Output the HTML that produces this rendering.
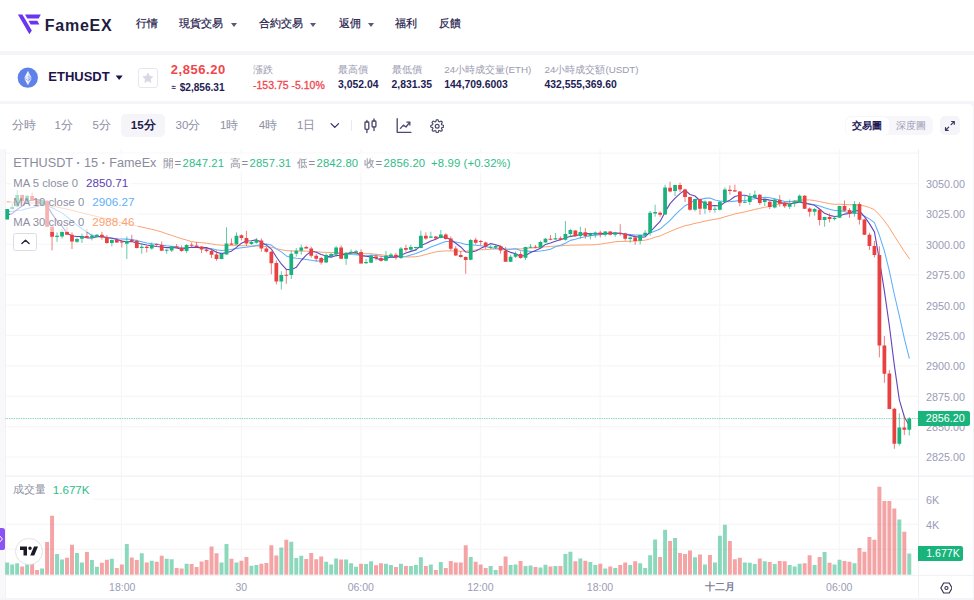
<!DOCTYPE html>
<html lang="zh-Hant">
<head>
<meta charset="utf-8">
<title>ETHUSDT | FameEX</title>
<style>
*{box-sizing:border-box;margin:0;padding:0}
html,body{width:974px;height:600px;overflow:hidden;background:#f4f4f9}
body{position:relative;font-family:"Liberation Sans",sans-serif;color:#1f1a4b;-webkit-font-smoothing:antialiased}
.abs{position:absolute;white-space:nowrap}
.panel{position:absolute;background:#fff}
.nav{position:absolute;top:16.9px;font-size:11.35px;line-height:13px;color:#1f1a4b;white-space:nowrap;-webkit-text-stroke:.2px #1f1a4b}
.car{position:absolute;width:0;height:0;border-left:3.3px solid transparent;border-right:3.3px solid transparent;border-top:4.1px solid #5a5778;margin-top:.5px}
.lbl{position:absolute;top:63.8px;font-size:9.8px;line-height:12px;color:#9a9ab2;white-space:nowrap}
.val{position:absolute;top:78.6px;font-size:10.4px;line-height:12px;font-weight:bold;color:#231c55;white-space:nowrap}
.tf{position:absolute;top:117.8px;font-size:11.5px;line-height:14px;color:#8e8ea6;white-space:nowrap}
.ax{position:absolute;left:926px;font-size:10.8px;line-height:12px;color:#9b9bb7;white-space:nowrap}
.tx{position:absolute;top:581px;font-size:10.5px;line-height:12px;color:#9b9bb7;white-space:nowrap;transform:translateX(-50%)}
.lg{position:absolute;left:9.5px;height:19.7px;padding:0 4px 0 3.8px;font-size:11.3px;line-height:19.7px;color:#8d8fa3;background:rgba(255,255,255,.6);white-space:nowrap}
.lg b{font-weight:normal;margin-left:8px;font-size:11.67px}
.lg em{font-style:normal;color:#30bd88}
.lg .g{display:inline-block;margin-right:5.85px}
.lg .cj{display:inline-block;width:10.4px;margin-right:1px;font-style:normal;overflow:hidden;vertical-align:top;height:19.7px}
.lg .g em{margin-left:1.4px}
</style>
</head>
<body>

<!-- ===== header ===== -->
<div class="panel" style="left:0;top:0;width:974px;height:51px"></div>
<svg class="abs" style="left:0;top:0" width="60" height="50" viewBox="0 0 60 50">
  <g fill="#6b33f2">
    <path d="M17.9 14.6H22.4L31.8 30.5L29.4 34.3Z"/>
    <path d="M25 14.6H40.8L38.7 18.6H27.3Z"/>
    <path d="M28.5 20.8H37.3L39.4 24.5H30.6Z"/>
  </g>
</svg>
<div class="abs" id="brand" style="left:44.8px;top:15.6px;font-size:16px;line-height:19px;font-weight:bold;letter-spacing:.75px;color:#211c3f">FameEX</div>

<div class="nav" style="left:136px">行情</div>
<div class="nav" style="left:179.2px">現貨交易</div><i class="car" style="left:230.5px;top:22.3px"></i>
<div class="nav" style="left:258.8px">合約交易</div><i class="car" style="left:310px;top:22.3px"></i>
<div class="nav" style="left:338.5px">返佣</div><i class="car" style="left:367.5px;top:22.3px"></i>
<div class="nav" style="left:395px">福利</div>
<div class="nav" style="left:439px">反饋</div>

<!-- ===== ticker ===== -->
<div class="panel" style="left:0;top:54.6px;width:974px;height:46.3px"></div>
<svg class="abs" style="left:17px;top:67px" width="22" height="22" viewBox="0 0 22 22">
  <circle cx="10.8" cy="10.7" r="10.15" fill="#5f82ea"/>
  <path d="M11 3.7L7.3 10.9L11 9.2Z" fill="#fff" opacity=".96"/>
  <path d="M11 3.7L14.7 10.9L11 9.2Z" fill="#dbe2fa"/>
  <path d="M11 9.2L7.3 10.9L11 13.2Z" fill="#e6ebfc"/>
  <path d="M11 9.2L14.7 10.9L11 13.2Z" fill="#bfcaf6"/>
  <path d="M7.3 11.5L11 13.7V18.2Z" fill="#fff" opacity=".96"/>
  <path d="M14.7 11.5L11 13.7V18.2Z" fill="#dbe2fa"/>
</svg>
<div class="abs" id="sym" style="left:48.3px;top:69.1px;font-size:13px;line-height:15px;font-weight:bold;color:#21124b">ETHUSDT</div>
<svg class="abs" style="left:114.8px;top:74px" width="9" height="7" viewBox="0 0 9 7"><path d="M1.2 1.4H7.2Q7.8 1.4 7.4 2L4.6 5.4Q4.2 5.9 3.8 5.4L1 2Q.6 1.4 1.2 1.4Z" fill="#21124b"/></svg>
<div class="abs" style="left:138px;top:68.2px;width:19.6px;height:19.5px;border:1px solid #e6e6f1;border-radius:3px;background:#fff"></div>
<svg class="abs" style="left:141.9px;top:72px" width="11.8" height="11.8" viewBox="0 0 24 24"><path d="M12 2.2l3 6.4 7 .9-5.1 4.8 1.3 6.9L12 17.8l-6.2 3.4 1.3-6.9L2 9.5l7-.9z" fill="#d7d7e5" stroke="#d7d7e5" stroke-width="1.5" stroke-linejoin="round"/></svg>

<div class="abs" id="px" style="left:170.8px;top:62px;font-size:13px;line-height:15px;font-weight:bold;letter-spacing:.55px;color:#f0464b">2,856.20</div>
<div class="abs" id="px2" style="left:171.6px;top:82px;font-size:10.1px;line-height:12px;font-weight:bold;color:#231c55"><span style="font-size:7.6px;margin-right:3.9px;position:relative;top:-.6px">≈</span>$2,856.31</div>

<div class="lbl" style="left:253px">漲跌</div>
<div class="val" id="chg" style="left:253px;color:#f0464b;font-weight:normal;font-size:10.5px;-webkit-text-stroke:.3px #f0464b">-153.75 -5.10%</div>
<div class="lbl" style="left:338px">最高價</div>
<div class="val" style="left:338px">3,052.04</div>
<div class="lbl" style="left:391.5px">最低價</div>
<div class="val" style="left:391.5px">2,831.35</div>
<div class="lbl" style="left:444.3px">24小時成交量(ETH)</div>
<div class="val" style="left:444.3px">144,709.6003</div>
<div class="lbl" style="left:544.5px">24小時成交額(USDT)</div>
<div class="val" style="left:544.5px">432,555,369.60</div>

<!-- ===== toolbar + chart panel ===== -->
<div class="panel" style="left:0;top:104px;width:973px;height:494px;border-top-right-radius:5px"></div>
<div class="abs" style="left:0;top:149px;width:5.5px;height:449px;background:#f8f8fb"></div>

<div class="tf" style="left:11.7px">分時</div>
<div class="tf" style="left:54.5px">1分</div>
<div class="tf" style="left:92.5px">5分</div>
<div class="abs" style="left:121.3px;top:113.8px;width:44.2px;height:23.2px;border-radius:5px;background:#f4f4f9"></div>
<div class="tf" style="left:130.8px;color:#1f1a4b;font-weight:bold">15分</div>
<div class="tf" style="left:175.5px">30分</div>
<div class="tf" style="left:220px">1時</div>
<div class="tf" style="left:258.8px">4時</div>
<div class="tf" style="left:297px">1日</div>
<svg class="abs" style="left:329px;top:121px" width="12" height="9" viewBox="0 0 12 9"><path d="M2 2.6L5.8 6.4L9.6 2.6" fill="none" stroke="#2d1e63" stroke-width="1.1" stroke-linecap="round" stroke-linejoin="round"/></svg>
<div class="abs" style="left:351.4px;top:120px;width:1px;height:11px;background:#e9e9f1"></div>
<!-- candle icon -->
<svg class="abs" style="left:363px;top:117px" width="16" height="18" viewBox="0 0 16 18">
  <g fill="none" stroke="#4c4a6b" stroke-width="1.35" stroke-linecap="round" stroke-linejoin="round">
    <path d="M3.9 3.4V5M3.9 12.4V15.6M11 1.8V4M11 10V13.6"/>
    <rect x="2" y="5" width="3.8" height="7.4" rx=".8"/>
    <rect x="9.1" y="4" width="3.8" height="6" rx=".8"/>
  </g>
</svg>
<!-- line chart icon -->
<svg class="abs" style="left:395px;top:117px" width="18" height="18" viewBox="0 0 18 18">
  <g fill="none" stroke="#4c4a6b" stroke-width="1.35" stroke-linecap="round" stroke-linejoin="round">
    <path d="M2.2 1.7V15.3H16"/>
    <path d="M5.4 11.4L8.4 8.1L11 10L14.6 5.4"/>
    <path d="M11.9 5.1H14.8V8"/>
  </g>
</svg>
<!-- gear icon -->
<svg class="abs" style="left:429.9px;top:118.6px" width="14.4" height="14.4" viewBox="0 0 24 24">
  <g fill="none" stroke="#4c4a6b" stroke-width="2" stroke-linecap="round" stroke-linejoin="round">
    <circle cx="12" cy="12" r="3.2"/>
    <path d="M19.4 15a1.65 1.65 0 0 0 .33 1.82l.06.06a2 2 0 1 1-2.83 2.83l-.06-.06a1.65 1.65 0 0 0-1.82-.33 1.65 1.65 0 0 0-1 1.51V21a2 2 0 1 1-4 0v-.09A1.65 1.65 0 0 0 9 19.4a1.65 1.65 0 0 0-1.82.33l-.06.06a2 2 0 1 1-2.83-2.83l.06-.06a1.65 1.65 0 0 0 .33-1.82 1.65 1.65 0 0 0-1.51-1H3a2 2 0 1 1 0-4h.09A1.65 1.65 0 0 0 4.6 9a1.65 1.65 0 0 0-.33-1.82l-.06-.06a2 2 0 1 1 2.83-2.83l.06.06a1.65 1.65 0 0 0 1.82.33H9a1.65 1.65 0 0 0 1-1.51V3a2 2 0 1 1 4 0v.09a1.65 1.65 0 0 0 1 1.51 1.65 1.65 0 0 0 1.82-.33l.06-.06a2 2 0 1 1 2.83 2.83l-.06.06a1.65 1.65 0 0 0-.33 1.82V9a1.65 1.65 0 0 0 1.51 1H21a2 2 0 1 1 0 4h-.09a1.65 1.65 0 0 0-1.51 1z"/>
  </g>
</svg>

<!-- right toggles -->
<div class="abs" style="left:845.4px;top:116.3px;width:87.4px;height:19.2px;border-radius:6px;background:#f6f6fb"></div>
<div class="abs" style="left:846.2px;top:117px;width:42.8px;height:17.8px;border-radius:5.5px;background:#fff"></div>
<div class="abs" style="left:852.4px;top:119.8px;font-size:10px;line-height:12px;font-weight:bold;color:#241c5a">交易圖</div>
<div class="abs" style="left:895.8px;top:119.8px;font-size:10px;line-height:12px;color:#9a9ab2">深度圖</div>
<div class="abs" style="left:940px;top:116.3px;width:19.6px;height:19.2px;border-radius:5px;background:#f4f4f9"></div>
<svg class="abs" style="left:944px;top:120px" width="12" height="12" viewBox="0 0 12 12">
  <g fill="none" stroke="#3a335f" stroke-width="1.2" stroke-linecap="round" stroke-linejoin="round">
    <path d="M7.1 4.7L10.2 1.6M7.6 1.5H10.3V4.2"/>
    <path d="M4.7 7.1L1.6 10.2M1.5 7.6V10.3H4.2"/>
  </g>
</svg>

<!-- ===== chart ===== -->
<svg class="abs" style="left:0;top:0" width="974" height="600" viewBox="0 0 974 600">
<rect x="5" y="149" width="1" height="449" fill="#f2f2f6"/>
<rect x="120.75" y="149" width="1.3" height="426" fill="#f7f7fa"/>
<rect x="240.75" y="149" width="1.3" height="426" fill="#f7f7fa"/>
<rect x="360.25" y="149" width="1.3" height="426" fill="#f7f7fa"/>
<rect x="479.85" y="149" width="1.3" height="426" fill="#f7f7fa"/>
<rect x="599.45" y="149" width="1.3" height="426" fill="#f7f7fa"/>
<rect x="719.05" y="149" width="1.3" height="426" fill="#f7f7fa"/>
<rect x="838.75" y="149" width="1.3" height="426" fill="#f7f7fa"/>
<rect x="5.5" y="152.55" width="913" height="1.3" fill="#f7f7fa"/>
<rect x="5.5" y="182.93" width="913" height="1.3" fill="#f7f7fa"/>
<rect x="5.5" y="213.31" width="913" height="1.3" fill="#f7f7fa"/>
<rect x="5.5" y="243.69" width="913" height="1.3" fill="#f7f7fa"/>
<rect x="5.5" y="274.07" width="913" height="1.3" fill="#f7f7fa"/>
<rect x="5.5" y="304.45" width="913" height="1.3" fill="#f7f7fa"/>
<rect x="5.5" y="334.83" width="913" height="1.3" fill="#f7f7fa"/>
<rect x="5.5" y="365.21" width="913" height="1.3" fill="#f7f7fa"/>
<rect x="5.5" y="395.59" width="913" height="1.3" fill="#f7f7fa"/>
<rect x="5.5" y="425.97" width="913" height="1.3" fill="#f7f7fa"/>
<rect x="5.5" y="456.35" width="913" height="1.3" fill="#f7f7fa"/>
<rect x="5.5" y="498.75" width="913" height="1.3" fill="#f7f7fa"/>
<rect x="5.5" y="523.65" width="913" height="1.3" fill="#f7f7fa"/>
<rect x="5.5" y="548.65" width="913" height="1.3" fill="#f7f7fa"/>
<path d="M5.22 562.5h3.95v12.3h-3.95zM10.21 564.5h3.95v10.3h-3.95zM15.19 563.2h3.95v11.6h-3.95zM25.16 564.1h3.95v10.7h-3.95zM40.11 568.5h3.95v6.3h-3.95zM55.07 554.1h3.95v20.7h-3.95zM60.05 559.4h3.95v15.4h-3.95zM75 553h3.95v21.8h-3.95zM79.99 562.5h3.95v12.3h-3.95zM89.95 560.1h3.95v14.7h-3.95zM94.94 566.8h3.95v8h-3.95zM109.89 558.8h3.95v16h-3.95zM124.84 544.1h3.95v30.7h-3.95zM139.79 553.2h3.95v21.6h-3.95zM149.76 560.8h3.95v14h-3.95zM164.71 558.8h3.95v16h-3.95zM169.7 559.2h3.95v15.6h-3.95zM184.65 563.8h3.95v11h-3.95zM219.54 562.4h3.95v12.4h-3.95zM224.52 544.1h3.95v30.7h-3.95zM234.49 562.4h3.95v12.4h-3.95zM249.44 565.7h3.95v9.1h-3.95zM254.42 565.1h3.95v9.7h-3.95zM279.34 547.4h3.95v27.4h-3.95zM289.31 541.8h3.95v33h-3.95zM294.3 558.1h3.95v16.7h-3.95zM299.28 555.8h3.95v19h-3.95zM324.2 561.8h3.95v13h-3.95zM329.18 564.5h3.95v10.3h-3.95zM334.17 558.4h3.95v16.4h-3.95zM344.14 559.4h3.95v15.4h-3.95zM349.12 563.2h3.95v11.6h-3.95zM354.1 566.8h3.95v8h-3.95zM364.07 564.1h3.95v10.7h-3.95zM369.06 561.2h3.95v13.6h-3.95zM384.01 563.7h3.95v11.1h-3.95zM388.99 565.1h3.95v9.7h-3.95zM398.96 563.7h3.95v11.1h-3.95zM408.93 566.1h3.95v8.7h-3.95zM413.91 565.1h3.95v9.7h-3.95zM418.9 557.2h3.95v17.6h-3.95zM428.86 564.4h3.95v10.4h-3.95zM438.83 562.1h3.95v12.7h-3.95zM468.74 557h3.95v17.8h-3.95zM488.67 565.9h3.95v8.9h-3.95zM493.66 570.1h3.95v4.7h-3.95zM508.61 565.1h3.95v9.7h-3.95zM513.59 564.4h3.95v10.4h-3.95zM523.56 565.9h3.95v8.9h-3.95zM528.55 565.5h3.95v9.3h-3.95zM538.51 567.5h3.95v7.3h-3.95zM543.5 564.8h3.95v10h-3.95zM553.47 565.9h3.95v8.9h-3.95zM563.43 554.1h3.95v20.7h-3.95zM568.42 551.7h3.95v23.1h-3.95zM578.38 558.4h3.95v16.4h-3.95zM588.35 562.1h3.95v12.7h-3.95zM593.34 565.1h3.95v9.7h-3.95zM603.31 568.5h3.95v6.3h-3.95zM613.27 568.1h3.95v6.7h-3.95zM628.23 565.1h3.95v9.7h-3.95zM638.19 563.2h3.95v11.6h-3.95zM643.18 568.1h3.95v6.7h-3.95zM648.16 555.2h3.95v19.6h-3.95zM653.14 539.4h3.95v35.4h-3.95zM663.11 529.8h3.95v45h-3.95zM673.08 538.1h3.95v36.7h-3.95zM693.02 557.2h3.95v17.6h-3.95zM702.99 564.5h3.95v10.3h-3.95zM712.95 562.4h3.95v12.4h-3.95zM717.94 535.8h3.95v39h-3.95zM722.92 524.8h3.95v50h-3.95zM742.86 562.5h3.95v12.3h-3.95zM747.84 562.8h3.95v12h-3.95zM752.83 564.1h3.95v10.7h-3.95zM762.79 561.2h3.95v13.6h-3.95zM772.76 564.1h3.95v10.7h-3.95zM787.71 565.1h3.95v9.7h-3.95zM792.7 566.4h3.95v8.4h-3.95zM797.68 563.7h3.95v11.1h-3.95zM812.63 565.1h3.95v9.7h-3.95zM822.6 552.1h3.95v22.7h-3.95zM832.57 564.5h3.95v10.3h-3.95zM837.55 559.8h3.95v15h-3.95zM852.5 563.2h3.95v11.6h-3.95zM897.36 519.4h3.95v55.4h-3.95zM907.33 553.4h3.95v21.4h-3.95z" fill="#1ab17c" opacity=".5"/>
<path d="M20.18 566.4h3.95v8.4h-3.95zM30.15 564.1h3.95v10.7h-3.95zM35.13 569.9h3.95v4.9h-3.95zM45.1 542.1h3.95v32.7h-3.95zM50.08 515.8h3.95v59h-3.95zM65.03 557.7h3.95v17.1h-3.95zM70.02 544.8h3.95v30h-3.95zM84.97 552.1h3.95v22.7h-3.95zM99.92 562.8h3.95v12h-3.95zM104.91 559.7h3.95v15.1h-3.95zM114.87 568.1h3.95v6.7h-3.95zM119.86 564.4h3.95v10.4h-3.95zM129.82 557.4h3.95v17.4h-3.95zM134.81 560.1h3.95v14.7h-3.95zM144.78 562.4h3.95v12.4h-3.95zM154.75 561.8h3.95v13h-3.95zM159.73 555.8h3.95v19h-3.95zM174.68 568.1h3.95v6.7h-3.95zM179.66 568.4h3.95v6.4h-3.95zM189.63 564.1h3.95v10.7h-3.95zM194.62 567.1h3.95v7.7h-3.95zM199.6 561.4h3.95v13.4h-3.95zM204.59 560.1h3.95v14.7h-3.95zM209.57 546.4h3.95v28.4h-3.95zM214.55 553.2h3.95v21.6h-3.95zM229.5 558.8h3.95v16h-3.95zM239.47 560.8h3.95v14h-3.95zM244.46 557h3.95v17.8h-3.95zM259.41 563.8h3.95v11h-3.95zM264.39 563.1h3.95v11.7h-3.95zM269.38 545.2h3.95v29.6h-3.95zM274.36 555.4h3.95v19.4h-3.95zM284.33 539.8h3.95v35h-3.95zM304.26 559h3.95v15.8h-3.95zM309.25 553h3.95v21.8h-3.95zM314.23 559.2h3.95v15.6h-3.95zM319.22 556.5h3.95v18.3h-3.95zM339.15 559.4h3.95v15.4h-3.95zM359.09 563.7h3.95v11.1h-3.95zM374.04 565.2h3.95v9.6h-3.95zM379.02 563.2h3.95v11.6h-3.95zM393.98 567.1h3.95v7.7h-3.95zM403.94 566.1h3.95v8.7h-3.95zM423.88 566.1h3.95v8.7h-3.95zM433.85 569.9h3.95v4.9h-3.95zM443.82 568.1h3.95v6.7h-3.95zM448.8 561h3.95v13.8h-3.95zM453.78 562.4h3.95v12.4h-3.95zM458.77 562.4h3.95v12.4h-3.95zM463.75 545.2h3.95v29.6h-3.95zM473.72 561.7h3.95v13.1h-3.95zM478.7 564.4h3.95v10.4h-3.95zM483.69 567.9h3.95v6.9h-3.95zM498.64 566.1h3.95v8.7h-3.95zM503.62 556.5h3.95v18.3h-3.95zM518.58 561h3.95v13.8h-3.95zM533.53 567.1h3.95v7.7h-3.95zM548.48 566.5h3.95v8.3h-3.95zM558.45 565.9h3.95v8.9h-3.95zM573.4 561.2h3.95v13.6h-3.95zM583.37 560.8h3.95v14h-3.95zM598.32 563.7h3.95v11.1h-3.95zM608.29 566.5h3.95v8.3h-3.95zM618.26 565.1h3.95v9.7h-3.95zM623.24 562.4h3.95v12.4h-3.95zM633.21 561.2h3.95v13.6h-3.95zM658.13 557h3.95v17.8h-3.95zM668.1 541h3.95v33.8h-3.95zM678.07 553h3.95v21.8h-3.95zM683.05 554.1h3.95v20.7h-3.95zM688.03 550.4h3.95v24.4h-3.95zM698 554.5h3.95v20.3h-3.95zM707.97 555h3.95v19.8h-3.95zM727.9 541h3.95v33.8h-3.95zM732.89 559.2h3.95v15.6h-3.95zM737.87 557.8h3.95v17h-3.95zM757.81 558.4h3.95v16.4h-3.95zM767.78 562.1h3.95v12.7h-3.95zM777.75 561h3.95v13.8h-3.95zM782.73 561.2h3.95v13.6h-3.95zM802.67 563.2h3.95v11.6h-3.95zM807.65 555.2h3.95v19.6h-3.95zM817.62 557h3.95v17.8h-3.95zM827.59 562.8h3.95v12h-3.95zM842.54 561h3.95v13.8h-3.95zM847.52 561.8h3.95v13h-3.95zM857.49 548.1h3.95v26.7h-3.95zM862.47 551.7h3.95v23.1h-3.95zM867.46 537h3.95v37.8h-3.95zM872.44 539.7h3.95v35.1h-3.95zM877.43 486.7h3.95v88.1h-3.95zM882.41 501h3.95v73.8h-3.95zM887.39 501h3.95v73.8h-3.95zM892.38 508.4h3.95v66.4h-3.95zM902.35 531.7h3.95v43.1h-3.95z" fill="#e84142" opacity=".48"/>
<polyline points="7.2,201.75 12.18,202.12 17.17,202.49 22.15,202.86 27.14,202.95 32.12,202.88 37.1,202.81 42.09,203.75 47.07,204.8 52.06,206.21 57.04,207.15 62.02,208.1 67.01,209.05 71.99,210.34 76.98,211.62 81.96,212.88 86.94,214.1 91.93,215.32 96.91,216.55 101.9,217.78 106.88,219.02 111.86,220.3 116.85,221.59 121.83,222.77 126.82,223.76 131.8,224.81 136.78,225.96 141.77,227.1 146.75,228.22 151.74,229.33 156.72,230.53 161.7,231.99 166.69,233.81 171.67,235.33 176.66,237.07 181.64,238.74 186.62,240.09 191.61,241.6 196.59,242.27 201.58,242.69 206.56,243.2 211.54,243.97 216.53,244.78 221.51,245.2 226.5,245.34 231.48,245.62 236.46,245.55 241.45,245.63 246.43,245.91 251.42,246.06 256.4,245.96 261.38,246.24 266.37,246.55 271.35,247.24 276.34,248.59 281.32,249.71 286.3,250.63 291.29,250.86 296.27,250.96 301.26,251.05 306.24,251.16 311.22,251.33 316.21,251.63 321.19,252.15 326.18,252.39 331.16,252.49 336.14,252.57 341.13,253 346.11,253.2 351.1,253.28 356.08,253.29 361.06,253.58 366.05,253.68 371.03,253.75 376.02,254.23 381,254.76 385.98,255.43 390.97,255.98 395.95,256.44 400.94,256.65 405.92,256.98 410.9,256.93 415.89,256.77 420.87,255.85 425.86,254.42 430.84,253.14 435.82,251.9 440.81,251.26 445.79,250.87 450.78,250.91 455.76,251.15 460.74,251.19 465.73,251.24 470.71,250.49 475.7,250.08 480.68,249.68 485.66,249.65 490.65,249.25 495.63,249.02 500.62,248.98 505.6,249.33 510.58,249.1 515.57,248.83 520.55,248.89 525.54,248.53 530.52,248.06 535.5,247.79 540.49,247.38 545.47,246.76 550.46,246.47 555.44,246.09 560.42,245.85 565.41,245.41 570.39,245.22 575.38,245.15 580.36,245 585.34,244.92 590.33,244.88 595.31,244.66 600.3,244.18 605.28,243.38 610.26,242.64 615.25,241.72 620.23,241.5 625.22,241.37 630.2,241.22 635.18,241.04 640.17,240.64 645.15,240.2 650.14,238.94 655.12,237.28 660.1,235.88 665.09,233.67 670.07,231.45 675.06,229.38 680.04,227.47 685.02,225.78 690.01,224.71 694.99,223.38 699.98,222.35 704.96,221.12 709.94,220.13 714.93,219.29 719.91,218.35 724.9,216.78 729.88,215.42 734.86,213.93 739.85,212.91 744.83,211.89 749.82,210.61 754.8,209.38 759.78,208.33 764.77,207.25 769.75,206.36 774.74,205.05 779.72,203.92 784.7,202.77 789.69,201.72 794.67,200.68 799.66,200.11 804.64,200 809.62,199.91 814.61,200.63 819.59,201.58 824.58,202.65 829.56,203.63 834.54,204.33 839.53,204.2 844.51,204.59 849.5,204.76 854.48,204.85 859.46,205.17 864.45,206.04 869.43,207.51 874.42,209.7 879.4,214.84 884.38,220.92 889.37,227.8 894.35,235.86 899.34,243.58 904.32,251.41 909.3,258.59" fill="none" stroke="#fba271" stroke-width="1.0" stroke-linejoin="round" stroke-linecap="round"/>
<polyline points="7.2,211.3 12.18,211.6 17.17,210.6 22.15,210.02 27.14,208.6 32.12,207.48 37.1,206.53 42.09,204.96 47.07,205.84 52.06,207.71 57.04,210.38 62.02,212.85 67.01,216.82 71.99,220.84 76.98,225.16 81.96,228.72 86.94,232.04 91.93,235.58 96.91,236.38 101.9,236.46 106.88,237.19 111.86,238.02 116.85,238.79 121.83,238.91 126.82,239.11 131.8,239.6 136.78,240.63 141.77,241.74 146.75,243.06 151.74,243.77 156.72,243.97 161.7,245.05 166.69,245.78 171.67,246.18 176.66,246.88 181.64,247.85 186.62,247.55 191.61,247.44 196.59,247.34 201.58,247.82 206.56,248.42 211.54,248.81 216.53,249.74 221.51,250.48 226.5,250.02 231.48,249.4 236.46,248.47 241.45,247.7 246.43,247.34 251.42,246.6 256.4,245.5 261.38,244.87 266.37,244.14 271.35,245.07 276.34,248.87 281.32,251.89 286.3,255.88 291.29,257.45 296.27,258.19 301.26,258.73 306.24,259.57 311.22,260.3 316.21,261 321.19,260.91 326.18,258.27 331.16,256.17 336.14,253.35 341.13,253.85 346.11,254.07 351.1,254.5 356.08,254.79 361.06,255.57 366.05,255.9 371.03,255.26 376.02,255.56 381,256.23 385.98,257.06 390.97,256.63 395.95,257.06 400.94,256.73 405.92,256.57 410.9,254.92 415.89,253.42 420.87,251.39 425.86,249.43 430.84,247.02 435.82,245.29 440.81,243.31 445.79,241.48 450.78,241.51 455.76,242.09 460.74,243.09 465.73,244.39 470.71,244.82 475.7,245.26 480.68,245.8 485.66,246.6 490.65,247.82 495.63,248.52 500.62,248.71 505.6,249.33 510.58,249.3 515.57,248.67 520.55,250.47 525.54,250.89 530.52,251.36 535.5,251.49 540.49,251.01 545.47,250.28 550.46,249.19 555.44,246.84 560.42,245.15 565.41,243.18 570.39,240.38 575.38,239.31 580.36,237.84 585.34,236.67 590.33,235.81 595.31,235.18 600.3,234.65 605.28,233.97 610.26,233.46 615.25,233.3 620.23,233.66 625.22,233.91 630.2,234.45 635.18,234.95 640.17,235.11 645.15,235.14 650.14,232.97 655.12,231.03 660.1,229.03 665.09,224.53 670.07,220.31 675.06,214.93 680.04,210.13 685.02,205.73 690.01,203.2 694.99,199.83 699.98,199.43 704.96,198.37 709.94,197.9 714.93,200.03 719.91,201.07 724.9,201.51 729.88,201.67 734.86,201.11 739.85,200.41 744.83,200.69 749.82,199.42 754.8,198.75 759.78,198.05 764.77,197.18 769.75,197.7 774.74,198.7 779.72,199.97 784.7,201.46 789.69,201.56 794.67,201.52 799.66,201.49 804.64,202.89 809.62,203.77 814.61,204.67 819.59,205.97 824.58,207.73 829.56,209.26 834.54,210.41 839.53,210.64 844.51,211.57 849.5,213.38 854.48,212.91 859.46,213.7 864.45,216.27 869.43,218.86 874.42,222.66 879.4,235.3 884.38,250.89 889.37,271.19 894.35,294.49 899.34,315.86 904.32,338.43 909.3,358.3" fill="none" stroke="#5db0fb" stroke-width="1.05" stroke-linejoin="round" stroke-linecap="round"/>
<polyline points="7.2,215 12.18,213.6 17.17,209.4 22.15,206.04 27.14,201.6 32.12,199.96 37.1,199.46 42.09,200.52 47.07,205.64 52.06,213.82 57.04,220.8 62.02,226.24 67.01,233.12 71.99,236.04 76.98,236.5 81.96,236.64 86.94,237.84 91.93,238.04 96.91,236.72 101.9,236.42 106.88,237.74 111.86,238.2 116.85,239.54 121.83,241.1 126.82,241.8 131.8,241.46 136.78,243.06 141.77,243.94 146.75,245.02 151.74,245.74 156.72,246.48 161.7,247.04 166.69,247.62 171.67,247.34 176.66,248.02 181.64,249.22 186.62,248.06 191.61,247.26 196.59,247.34 201.58,247.62 206.56,247.62 211.54,249.56 216.53,252.22 221.51,253.62 226.5,252.42 231.48,251.18 236.46,247.38 241.45,243.18 246.43,241.06 251.42,240.78 256.4,239.82 261.38,242.36 266.37,245.1 271.35,249.08 276.34,256.96 281.32,263.96 286.3,269.4 291.29,269.8 296.27,267.3 301.26,260.5 306.24,255.18 311.22,251.2 316.21,252.2 321.19,254.52 326.18,256.04 331.16,257.16 336.14,255.5 341.13,255.5 346.11,253.62 351.1,252.96 356.08,252.42 361.06,255.64 366.05,256.3 371.03,256.9 376.02,258.16 381,260.04 385.98,258.48 390.97,256.96 395.95,257.22 400.94,255.3 405.92,253.1 410.9,251.36 415.89,249.88 420.87,245.56 425.86,243.56 430.84,240.94 435.82,239.22 440.81,236.74 445.79,237.4 450.78,239.46 455.76,243.24 460.74,246.96 465.73,252.04 470.71,252.24 475.7,251.06 480.68,248.36 485.66,246.24 490.65,243.6 495.63,244.8 500.62,246.36 505.6,250.3 510.58,252.36 515.57,253.74 520.55,256.14 525.54,255.42 530.52,252.42 535.5,250.62 540.49,248.28 545.47,244.42 550.46,242.96 555.44,241.26 560.42,239.68 565.41,238.08 570.39,236.34 575.38,235.66 580.36,234.42 585.34,233.66 590.33,233.54 595.31,234.02 600.3,233.64 605.28,233.52 610.26,233.26 615.25,233.06 620.23,233.3 625.22,234.18 630.2,235.38 635.18,236.64 640.17,237.16 645.15,236.98 650.14,231.76 655.12,226.68 660.1,221.42 665.09,211.9 670.07,203.64 675.06,198.1 680.04,193.58 685.02,190.04 690.01,194.5 694.99,196.02 699.98,200.76 704.96,203.16 709.94,205.76 714.93,205.56 719.91,206.12 724.9,202.26 729.88,200.18 734.86,196.46 739.85,195.26 744.83,195.26 749.82,196.58 754.8,197.32 759.78,199.64 764.77,199.1 769.75,200.14 774.74,200.82 779.72,202.62 784.7,203.28 789.69,204.02 794.67,202.9 799.66,202.16 804.64,203.16 809.62,204.26 814.61,205.32 819.59,209.04 824.58,213.3 829.56,215.36 834.54,216.56 839.53,215.96 844.51,214.1 849.5,213.46 854.48,210.46 859.46,210.84 864.45,216.58 869.43,223.62 874.42,231.86 879.4,260.14 884.38,290.94 889.37,325.8 894.35,365.36 899.34,399.86 904.32,416.72 909.3,425.66" fill="none" stroke="#6445b9" stroke-width="1.1" stroke-linejoin="round" stroke-linecap="round"/>
<path d="M7.2 209V219.4M12.18 203.4V209.3M17.17 190.2V206.8M27.14 195.2V203.5M42.09 199.5V206M57.04 232.4V241.8M62.02 229V238.4M76.98 237.7V243M81.96 233.7V243M91.93 233.7V240.4M96.91 234V237.5M111.86 239.5V246.4M126.82 236.4V259M141.77 243.7V253.7M151.74 242.4V249.7M166.69 249V253.7M171.67 246V252M186.62 244V253M221.51 252.7V259.2M226.5 227.3V254.7M236.46 232.4V244.7M251.42 241V245M256.4 238V243.7M281.32 271.3V289.5M291.29 250.4V279M296.27 248V256.7M301.26 244.6V254.7M326.18 253.4V262.7M331.16 253V258M336.14 246V257M346.11 252V264.8M351.1 249.4V254M356.08 249.7V254.4M366.05 259V263.7M371.03 254.4V263M385.98 251V261.3M390.97 252.8V257M400.94 247V259M410.9 244.8V251M415.89 246.8V251M420.87 230.6V248.4M430.84 231.7V238M440.81 230V238.4M470.71 239V260.4M490.65 245V249M495.63 245V249M510.58 254.7V261.9M515.57 251.4V258M525.54 246.8V260M530.52 244V248M540.49 240.7V248.3M545.47 237.8V242.7M555.44 233V239.7M565.41 221V240.7M570.39 228.7V237.4M580.36 226.7V238.7M590.33 232.7V239.4M595.31 231.4V237.8M605.28 231V236.7M615.25 231.8V236.7M630.2 236.4V242.8M640.17 234.8V244.5M645.15 230V236M650.14 211V235.7M655.12 204.7V216.7M665.09 184.7V214.7M675.06 184.7V196M694.99 198.7V211.4M704.96 200.4V213.8M714.93 206.3V212.7M719.91 200.7V210.5M724.9 187.4V202.7M744.83 195.4V203M749.82 193V205M754.8 190.7V198M764.77 198.7V206M774.74 198.7V208.4M789.69 199.4V209M794.67 200V207M799.66 194.4V202.9M814.61 207.8V215.7M824.58 216.8V226.7M834.54 216V220.4M839.53 205.7V218M854.48 201V216.7M899.34 413.3V445.7M909.3 417V435.5" stroke="#1ab17c" stroke-width="0.95" fill="none" opacity=".72"/>
<path d="M22.15 194.6V201.6M32.12 192.5V201M37.1 199.5V207M47.07 200.4V227.2M52.06 226.2V250.4M67.01 227V235M71.99 232.4V249M86.94 229V238M101.9 231.7V239.7M106.88 235V243.8M116.85 237.7V243M121.83 240V247.5M131.8 234.8V241.5M136.78 239.7V248.4M146.75 245.7V252.4M156.72 243.7V246.4M161.7 241.4V251M176.66 244V248.2M181.64 245.4V251.7M191.61 242.4V247.7M196.59 242V247.3M201.58 246V253M206.56 248.4V252.4M211.54 248.4V258M216.53 250.4V260.7M231.48 238.4V245M241.45 234.4V240.4M246.43 230.8V246M261.38 238.4V251.7M266.37 247V252.7M271.35 250.8V274.4M276.34 260.4V284.4M286.3 269.7V283.8M306.24 245.7V248.6M311.22 246.6V257.7M316.21 254V261.7M321.19 257V264.7M341.13 245.3V259M361.06 249.4V263.7M376.02 254.4V260.4M381 255.7V261.7M395.95 252.8V259.7M405.92 244.8V251.7M425.86 232.4V239.7M435.82 236V239M445.79 233.3V239.7M450.78 236.4V250.4M455.76 246V256M460.74 251V257.7M465.73 256.4V273.8M475.7 237.7V244.4M480.68 240V245.3M485.66 241.7V249M500.62 245.4V253.7M505.6 247V262M520.55 251.4V258.7M535.5 245V248.3M550.46 235V240.3M560.42 236.3V240.5M575.38 230.2V236.5M585.34 228V238.7M600.3 230.7V237.4M610.26 231V235.4M620.23 224.2V235.8M625.22 232.7V240.8M635.18 235.4V244.8M660.1 211.4V216.7M670.07 181.7V192.4M680.04 182.7V192M685.02 188.7V202M690.01 196.7V210.7M699.98 198.7V214.7M709.94 201V212.5M729.88 185.4V194.7M734.86 184.7V192M739.85 191V206.3M759.78 194V205M769.75 201.4V209M779.72 195V206.7M784.7 202V208M804.64 195V209M809.62 207.4V216.7M819.59 209V225.4M829.56 213.4V222.4M844.51 200.4V211M849.5 208V217.8M859.46 202V224.5M864.45 218.7V234.9M869.43 232.7V250M874.42 241V257.4M879.4 246.3V357.4M884.38 336V382.8M889.37 370V409.3M894.35 407.7V448.8M904.32 415.7V435" stroke="#e84142" stroke-width="0.95" fill="none" opacity=".72"/>
<path d="M5.33 209h3.75v10.4h-3.75zM10.31 207h3.75v2h-3.75zM15.29 195h3.75v11.6h-3.75zM25.26 195.8h3.75v5.7h-3.75zM40.21 200.3h3.75v4.7h-3.75zM55.17 235.7h3.75v1.3h-3.75zM60.15 231.7h3.75v4.7h-3.75zM75.1 239h3.75v2.8h-3.75zM80.09 236.4h3.75v2.4h-3.75zM90.05 235.7h3.75v2h-3.75zM95.04 234.8h3.75v2.2h-3.75zM109.99 240h3.75v3h-3.75zM124.94 241h3.75v2.7h-3.75zM139.89 246.8h3.75v1.2h-3.75zM149.86 244.6h3.75v3.8h-3.75zM164.81 249.7h3.75v1.1h-3.75zM169.8 246.6h3.75v3.8h-3.75zM184.75 245h3.75v6h-3.75zM219.64 254h3.75v5h-3.75zM224.62 243.4h3.75v11h-3.75zM234.59 235.7h3.75v8.7h-3.75zM249.54 242h3.75v2h-3.75zM254.52 240h3.75v2.8h-3.75zM279.44 275h3.75v6.4h-3.75zM289.41 253.7h3.75v21.3h-3.75zM294.4 250.8h3.75v2.9h-3.75zM299.38 247.4h3.75v3.4h-3.75zM324.3 255h3.75v7.4h-3.75zM329.28 254h3.75v2h-3.75zM334.27 247.4h3.75v7h-3.75zM344.24 253h3.75v5.7h-3.75zM349.22 251.7h3.75v1.3h-3.75zM354.2 251.3h3.75v1.5h-3.75zM364.17 262h3.75v1.3h-3.75zM369.16 256h3.75v6.8h-3.75zM384.11 255.7h3.75v5.1h-3.75zM389.09 254.4h3.75v2h-3.75zM399.06 248.4h3.75v9.6h-3.75zM409.03 247h3.75v2.7h-3.75zM414.01 247h3.75v1h-3.75zM419 235.7h3.75v12.3h-3.75zM428.96 236.6h3.75v1.1h-3.75zM438.93 234.6h3.75v3.4h-3.75zM468.84 240h3.75v19.7h-3.75zM488.77 246.8h3.75v1h-3.75zM493.76 246h3.75v1.8h-3.75zM508.71 256.7h3.75v5h-3.75zM513.69 253.7h3.75v3h-3.75zM523.66 247h3.75v10.8h-3.75zM528.65 246.7h3.75v1h-3.75zM538.61 242h3.75v5.4h-3.75zM543.6 238.7h3.75v3.8h-3.75zM553.57 238.2h3.75v1.2h-3.75zM563.53 234h3.75v5.7h-3.75zM568.52 230h3.75v4h-3.75zM578.49 232h3.75v4h-3.75zM588.45 233.4h3.75v2.4h-3.75zM593.44 232.4h3.75v2h-3.75zM603.41 231.4h3.75v3.3h-3.75zM613.37 232.4h3.75v2.3h-3.75zM628.33 237.4h3.75v1.6h-3.75zM638.29 235h3.75v5.8h-3.75zM643.28 232.7h3.75v2.7h-3.75zM648.26 212.7h3.75v20h-3.75zM653.25 212h3.75v1.4h-3.75zM663.21 187.4h3.75v27.1h-3.75zM673.18 185h3.75v6h-3.75zM693.12 199h3.75v10.7h-3.75zM703.09 201.4h3.75v7.3h-3.75zM713.05 208.7h3.75v1h-3.75zM718.04 201.8h3.75v7.9h-3.75zM723.02 189.4h3.75v12.6h-3.75zM742.96 201.8h3.75v1h-3.75zM747.94 196h3.75v6h-3.75zM752.93 194.7h3.75v2.7h-3.75zM762.89 200h3.75v2h-3.75zM772.86 199.4h3.75v8h-3.75zM787.81 203.7h3.75v3h-3.75zM792.8 201.4h3.75v2h-3.75zM797.78 195.7h3.75v7h-3.75zM812.73 209h3.75v2.8h-3.75zM822.7 217h3.75v3h-3.75zM832.67 217.8h3.75v1.2h-3.75zM837.65 206h3.75v11.8h-3.75zM852.61 204h3.75v9.4h-3.75zM897.46 427.5h3.75v16.2h-3.75zM907.43 418.4h3.75v11.3h-3.75z" fill="#1ab17c"/>
<path d="M20.28 195h3.75v6.2h-3.75zM30.25 196h3.75v4.8h-3.75zM35.23 200.3h3.75v4.2h-3.75zM45.2 200.8h3.75v26h-3.75zM50.18 226.7h3.75v10h-3.75zM65.13 231.7h3.75v3h-3.75zM70.12 234.7h3.75v6.7h-3.75zM85.07 236h3.75v1.7h-3.75zM100.02 234.8h3.75v2.7h-3.75zM105.01 237h3.75v6h-3.75zM114.97 239.7h3.75v2.7h-3.75zM119.96 241.6h3.75v1h-3.75zM129.92 239.7h3.75v1.6h-3.75zM134.91 241h3.75v7h-3.75zM144.88 246.8h3.75v1.2h-3.75zM154.84 244h3.75v1h-3.75zM159.83 245h3.75v5.8h-3.75zM174.78 246.6h3.75v1.4h-3.75zM179.76 248h3.75v3h-3.75zM189.73 244.8h3.75v1h-3.75zM194.72 245.4h3.75v1.6h-3.75zM199.7 246.4h3.75v3h-3.75zM204.69 249.4h3.75v1.6h-3.75zM209.67 251h3.75v3.7h-3.75zM214.65 254.4h3.75v4.6h-3.75zM229.6 243.4h3.75v1.4h-3.75zM239.57 235.3h3.75v2.7h-3.75zM244.56 238h3.75v5.4h-3.75zM259.51 240.4h3.75v8h-3.75zM264.49 248.4h3.75v3.3h-3.75zM269.48 251.7h3.75v11.6h-3.75zM274.46 263h3.75v18.4h-3.75zM284.43 274.7h3.75v1h-3.75zM304.37 247h3.75v1.4h-3.75zM309.35 248.4h3.75v7.3h-3.75zM314.33 255.7h3.75v3h-3.75zM319.32 258h3.75v4.4h-3.75zM339.25 247.4h3.75v11.3h-3.75zM359.19 252h3.75v11.5h-3.75zM374.14 256.4h3.75v1.6h-3.75zM379.12 258h3.75v2.7h-3.75zM394.08 254.7h3.75v2.6h-3.75zM404.05 248h3.75v1.7h-3.75zM423.98 235.7h3.75v2.7h-3.75zM433.95 236.6h3.75v1.8h-3.75zM443.92 234.4h3.75v4.6h-3.75zM448.9 238.6h3.75v10.1h-3.75zM453.88 248.4h3.75v7.1h-3.75zM458.87 255h3.75v2h-3.75zM463.85 257h3.75v3h-3.75zM473.82 239.7h3.75v3.1h-3.75zM478.81 241h3.75v1h-3.75zM483.79 242.4h3.75v4h-3.75zM498.74 246.2h3.75v4.4h-3.75zM503.72 250.7h3.75v11h-3.75zM518.68 254h3.75v4h-3.75zM533.63 246.7h3.75v1h-3.75zM548.58 238.7h3.75v1h-3.75zM558.55 238.2h3.75v1.6h-3.75zM573.5 230.4h3.75v5.9h-3.75zM583.47 232.3h3.75v3.7h-3.75zM598.42 232.4h3.75v2h-3.75zM608.39 231.4h3.75v3.3h-3.75zM618.36 232.7h3.75v1h-3.75zM623.34 233.4h3.75v5.4h-3.75zM633.31 237.4h3.75v3.6h-3.75zM658.23 212.7h3.75v2h-3.75zM668.2 187.8h3.75v3.6h-3.75zM678.17 185h3.75v4.4h-3.75zM683.15 189.4h3.75v7.6h-3.75zM688.13 197h3.75v12.7h-3.75zM698.1 199h3.75v9.7h-3.75zM708.07 201.4h3.75v8.6h-3.75zM728 189.8h3.75v1.2h-3.75zM732.99 190.3h3.75v1.1h-3.75zM737.97 191.4h3.75v11.3h-3.75zM757.91 194.7h3.75v8.3h-3.75zM767.88 201.8h3.75v5.2h-3.75zM777.85 200h3.75v3.7h-3.75zM782.83 203h3.75v3.3h-3.75zM802.77 195.7h3.75v13h-3.75zM807.75 208.4h3.75v3.4h-3.75zM817.72 209.7h3.75v10.3h-3.75zM827.69 217h3.75v2h-3.75zM842.64 206h3.75v4.7h-3.75zM847.62 210h3.75v3.8h-3.75zM857.59 204h3.75v15.7h-3.75zM862.57 219.4h3.75v15.3h-3.75zM867.56 234.7h3.75v11.2h-3.75zM872.54 246h3.75v9h-3.75zM877.53 255h3.75v90.4h-3.75zM882.51 345.4h3.75v28.3h-3.75zM887.49 373.4h3.75v35.6h-3.75zM892.48 408.8h3.75v34.9h-3.75zM902.45 427.5h3.75v2.2h-3.75z" fill="#e84142"/>
<line x1="5.5" y1="418.6" x2="918" y2="418.6" stroke="#15ad79" stroke-width="1" stroke-dasharray="0.74 1" opacity=".72"/>
<rect x="918.1" y="149" width="1" height="449" fill="#eff0f5"/>
<rect x="5.5" y="475.6" width="968" height="1" fill="#ecedf2"/>
<rect x="5.5" y="574.9" width="968" height="1" fill="#f0f0f5"/>
</svg>

<!-- legend -->
<div class="lg" style="top:153.2px;font-size:12.65px;color:#8a8c9e;line-height:21.6px"><span id="ttl">ETHUSDT <span style="font-weight:bold">·</span> 15 <span style="font-weight:bold">·</span> FameEx</span><span id="ohlc" style="font-size:11.3px;margin-left:6.6px;letter-spacing:.12px;line-height:19.7px"><span class="g"><i class="cj">開</i>=<em>2847.21</em></span><span class="g"><i class="cj">高</i>=<em>2857.31</em></span><span class="g"><i class="cj">低</i>=<em>2842.80</em></span><span class="g"><i class="cj">收</i>=<em>2856.20</em></span><em>+8.99 (+0.32%)</em></span></div>
<div class="lg" style="top:172.5px">MA 5 close 0<b style="color:#5e3fb4">2850.71</b></div>
<div class="lg" style="top:192.3px">MA 10 close 0<b style="color:#5db0fb">2906.27</b></div>
<div class="lg" style="top:211.9px">MA 30 close 0<b style="color:#fba271">2988.46</b></div>
<div class="abs" style="left:13.3px;top:233.4px;width:23.4px;height:17.4px;border:1px solid #dcdce8;border-radius:2.5px;background:#fff"></div>
<svg class="abs" style="left:19.5px;top:238px" width="11" height="8" viewBox="0 0 11 8"><path d="M1.9 5.6L5.5 2.3L9.1 5.6" fill="none" stroke="#262338" stroke-width="1.35" stroke-linecap="round" stroke-linejoin="round"/></svg>

<div class="lg" style="left:5.5px;top:480.2px;padding-left:7.8px;width:87.5px;background:rgba(255,255,255,.92)"><i class="cj" style="width:31.4px;margin-right:0">成交量</i><b style="color:#30bd88">1.677K</b></div>

<!-- price axis -->
<div class="ax" style="top:178px">3050.00</div>
<div class="ax" style="top:208.4px">3025.00</div>
<div class="ax" style="top:238.8px">3000.00</div>
<div class="ax" style="top:269.1px">2975.00</div>
<div class="ax" style="top:299.5px">2950.00</div>
<div class="ax" style="top:329.9px">2925.00</div>
<div class="ax" style="top:360.3px">2900.00</div>
<div class="ax" style="top:390.7px">2875.00</div>
<div class="ax" style="top:421.1px">2850.00</div>
<div class="ax" style="top:451.4px">2825.00</div>
<div class="ax" style="top:493.8px">6K</div>
<div class="ax" style="top:518.6px">4K</div>
<div class="ax" style="top:543.5px">2K</div>
<div class="abs" style="left:918.3px;top:411.3px;width:51.8px;height:14.3px;border-radius:0 2.2px 2.2px 0;background:#19b37c;color:#fff;font-size:10.8px;line-height:14.4px;padding-left:7.4px">2856.20</div>
<div class="abs" style="left:918.3px;top:546.1px;width:45px;height:14.5px;border-radius:0 2.2px 2.2px 0;background:#19b37c;color:#fff;font-size:10.6px;line-height:14.6px;padding-left:7.9px">1.677K</div>

<!-- time axis -->
<div class="tx" style="left:122.2px">18:00</div>
<div class="tx" style="left:241.3px">30</div>
<div class="tx" style="left:360.8px">06:00</div>
<div class="tx" style="left:480.4px">12:00</div>
<div class="tx" style="left:600px">18:00</div>
<div class="tx" style="left:719.6px;font-size:9.6px;font-weight:bold;color:#7c7c98">十二月</div>
<div class="tx" style="left:839.2px">06:00</div>
<svg class="abs" style="left:939.6px;top:581.5px" width="12.9" height="12" viewBox="0 0 14 13">
  <path d="M4 1.1H10L13.1 6.5L10 11.9H4L.9 6.5Z" fill="none" stroke="#34314f" stroke-width="1.25" stroke-linejoin="round"/>
  <circle cx="7" cy="6.5" r="1.7" fill="none" stroke="#34314f" stroke-width="1.2"/>
</svg>

<!-- TV logo + side tab -->
<div class="abs" style="left:15.3px;top:537.6px;width:27.6px;height:27.6px;border-radius:50%;background:#fff;border:1px solid #e2e2ea"></div>
<svg class="abs" style="left:20.4px;top:546.4px" width="18" height="10" viewBox="0 0 36 18"><path d="M14 18H7V7H0V0h14v18zM36 0L28.5 18h-8l7.5-18h8z M20 7a3.500 3.500 0 1 1 0-7 3.500 3.500 0 0 1 0 7z" fill="#1a1a26"/></svg>
<div class="abs" style="left:0;top:528.1px;width:5.1px;height:21.7px;border-radius:0 2.6px 2.6px 0;background:#8c52f6"></div>
<svg class="abs" style="left:-1.4px;top:535px" width="5" height="8" viewBox="0 0 5 8"><path d="M1.2 1.4L3.4 4L1.2 6.6" fill="none" stroke="#fff" stroke-width="1" stroke-linecap="round" stroke-linejoin="round"/></svg>

</body>
</html>
